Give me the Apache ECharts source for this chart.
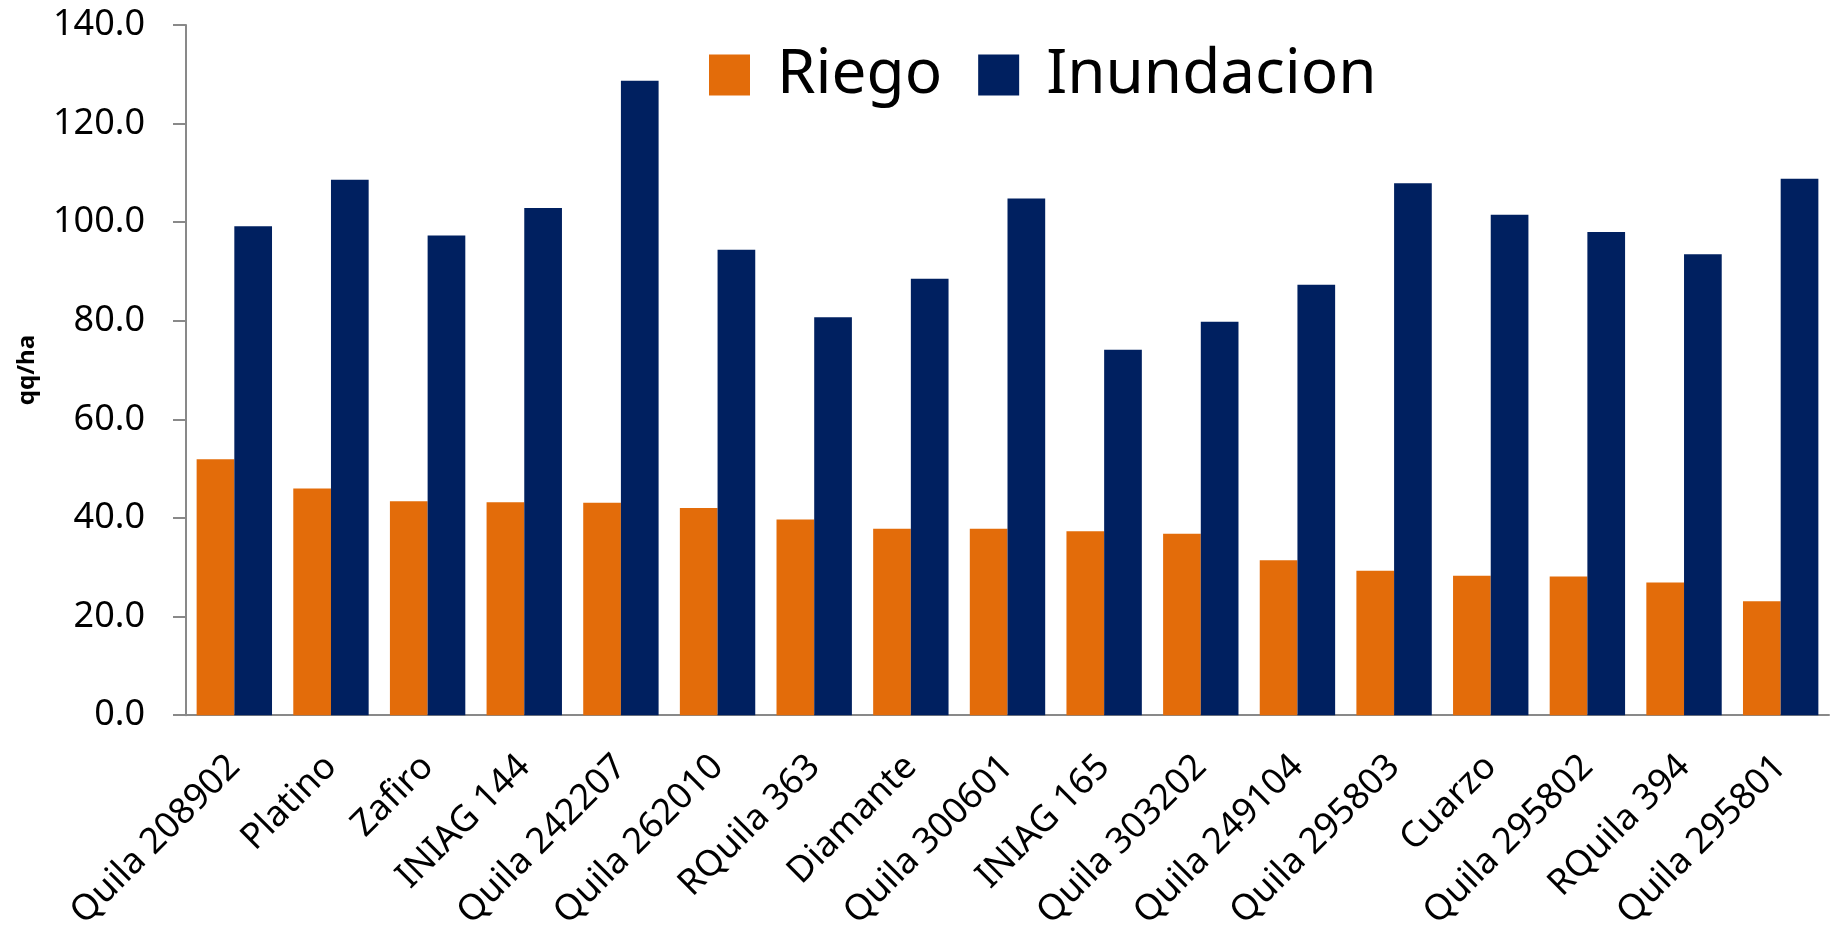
<!DOCTYPE html>
<html>
<head>
<meta charset="utf-8">
<script src="https://cdn.jsdelivr.net/npm/echarts@6/dist/echarts.min.js"></script>
<style>
  html, body { margin: 0; padding: 0; background: #fff; }
  #main { width: 1835px; height: 933px; }
</style>
</head>
<body>
<div id="main"></div>
<script>
// datos de rendimiento (qq/ha)
var variedades = ["Quila 208902", "Platino", "Zafiro", "INIAG 144", "Quila 242207", "Quila 262010",
  "RQuila 363", "Diamante", "Quila 300601", "INIAG 165", "Quila 303202", "Quila 249104",
  "Quila 295803", "Cuarzo", "Quila 295802", "RQuila 394", "Quila 295801"];
var riego = [51.9, 46.0, 43.4, 43.2, 43.1, 42.0, 39.7, 37.8, 37.8, 37.3, 36.8, 31.4, 29.3, 28.3, 28.1, 26.9, 23.1];
var inundacion = [99.2, 108.6, 97.3, 102.9, 128.7, 94.4, 80.7, 88.5, 104.8, 74.1, 79.8, 87.3, 107.9, 101.5, 98.0, 93.5, 108.8];

var myChart = echarts.init(document.getElementById("main"));
var option;
var fuente = "Noto Sans";

option = {
  animation: false,
  textStyle: { fontFamily: fuente },
  legend: {
    left: 709,
    top: 44,
    padding: 0,
    itemWidth: 41,
    itemHeight: 41,
    itemGap: 36,
    icon: "rect",
    textStyle: { fontSize: 62, color: "#000", fontFamily: fuente, padding: [0, 0, 0, 22] },
    data: ["Riego", "Inundacion"]
  },
  grid: {
    left: 186,
    right: 6,
    top: 25,
    bottom: 216,
    containLabel: false
  },
  xAxis: {
    type: "category",
    data: variedades,
    axisLine: { lineStyle: { color: "#898989", width: 2 } },
    axisTick: { show: false },
    axisLabel: {
      rotate: 45,
      interval: 0,
      margin: 46,
      fontSize: 36,
      color: "#000",
      fontFamily: fuente
    }
  },
  yAxis: {
    type: "value",
    min: 0,
    max: 140,
    interval: 20,
    name: "qq/ha",
    nameLocation: "middle",
    nameGap: 147,
    nameTextStyle: { fontSize: 24, fontWeight: "bold", color: "#000", fontFamily: fuente },
    axisLine: { show: true, lineStyle: { color: "#898989", width: 2 } },
    axisTick: { show: true, length: 13, lineStyle: { color: "#898989", width: 2 } },
    splitLine: { show: false },
    axisLabel: {
      margin: 41,
      fontSize: 36,
      color: "#000",
      fontFamily: fuente,
      formatter: function (v) { return v.toFixed(1); }
    }
  },
  series: [
    {
      name: "Riego",
      type: "bar",
      data: riego,
      barGap: "0%",
      barCategoryGap: "22%",
      itemStyle: { color: "#E36C0A" }
    },
    {
      name: "Inundacion",
      type: "bar",
      data: inundacion,
      itemStyle: { color: "#002060" }
    }
  ]
};

option && myChart.setOption(option);
window.onresize = myChart.resize;
</script>
</body>
</html>
